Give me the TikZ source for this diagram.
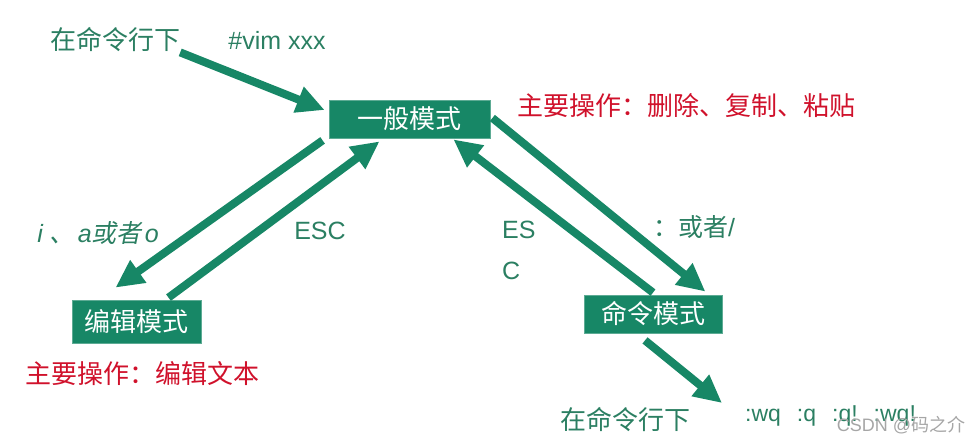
\documentclass[tikz,border=0pt]{standalone}
\usepackage{fontspec}
\setmainfont{Liberation Sans}
\newfontfamily\cjk{Noto Sans CJK SC}
\newfontfamily\cjkit{Noto Sans CJK SC}[FakeSlant=0.2]
\definecolor{boxgreen}{HTML}{178766}
\definecolor{txtgreen}{HTML}{2B7F62}
\definecolor{opred}{HTML}{D0112B}
\usetikzlibrary{arrows.meta,calc}

\begin{document}
\begin{tikzpicture}[
  x=1pt, y=-1pt,
  mode/.style={fill=boxgreen, draw=boxgreen!70!white, line width=0.8pt,
               text=white, inner sep=0pt, font=\cjk\fontsize{26}{30}\selectfont},
  lbl/.style ={text=txtgreen, inner sep=0pt, font=\fontsize{25}{30}\selectfont},
  note/.style={text=opred, inner sep=0pt, font=\cjk\fontsize{26}{30}\selectfont},
  ar/.style  ={-{Triangle[length=28pt,width=26pt]}, line width=8pt, draw=boxgreen},
]
  \useasboundingbox (0,0) rectangle (969,444);

  % ---- 三种模式 ----
  \node[mode, minimum width=161pt, minimum height=38pt] (normal) at (409.5,119) {一般模式};
  \node[mode, minimum width=129pt, minimum height=43pt] (edit)   at (136.5,321.5) {编辑模式};
  \node[mode, minimum width=138pt, minimum height=38pt] (cmd)    at (653,314) {命令模式};

  % ---- 说明文字 ----
  \node[lbl, font=\cjk\fontsize{26}{30}\selectfont] (shell1) at (115,40) {在命令行下};
  \node[lbl] (vim) at (277,40) {\#vim xxx};
  \node[note] (opnormal) at (686,106) {主要操作：删除、复制、粘贴};
  \node[note] (opedit)   at (142,374) {主要操作：编辑文本};
  \node[lbl] (insert) at (98,233) {\itshape i {\cjkit 、}\kern3pt a{\cjkit 或者}\kern3pt o};
  \node[lbl] (esc1)   at (320,231) {ESC};
  \node[lbl, align=left, anchor=west, font=\fontsize{25}{41}\selectfont] (esc2) at (502,250) {ES\\C};
  \node[lbl] (colon)  at (694,227) {{\cjk ：或者}/};
  \node[lbl, font=\cjk\fontsize{26}{30}\selectfont] (shell2) at (625,420) {在命令行下};
  \node[lbl, anchor=west, font=\fontsize{23}{28}\selectfont] (wq) at (745,416)
    {:wq\hspace{16pt}:q\hspace{16pt}:q!\hspace{16pt}:wq!};
  \node[text=black!35, inner sep=0pt, font=\fontsize{18}{22}\selectfont] (mark) at (901,425)
    {CSDN @{\cjk 码之介}};
  \coordinate (exit) at (722,403);

  % ---- 连线 ----
  \draw[ar] (shell1.south east) -- ($(normal.west)+(-4,-9)$);
  \draw[ar] ($(normal.south west)+(-6,2)$) -- ($(edit.north)+(-21,-12)$);
  \draw[ar] ($(edit.north)+(32,-2)$) -- ($(normal.south)+(-30,3)$);
  \draw[ar] ($(normal.east)+(2,-1)$) -- ($(cmd.north east)+(-17,-3)$);
  \draw[ar] ($(cmd.north)+(0,-2)$) -- ($(normal.south east)+(-37,1)$);
  \draw[ar] ($(cmd.south)+(-8,7)$) -- (exit);
\end{tikzpicture}
\end{document}
